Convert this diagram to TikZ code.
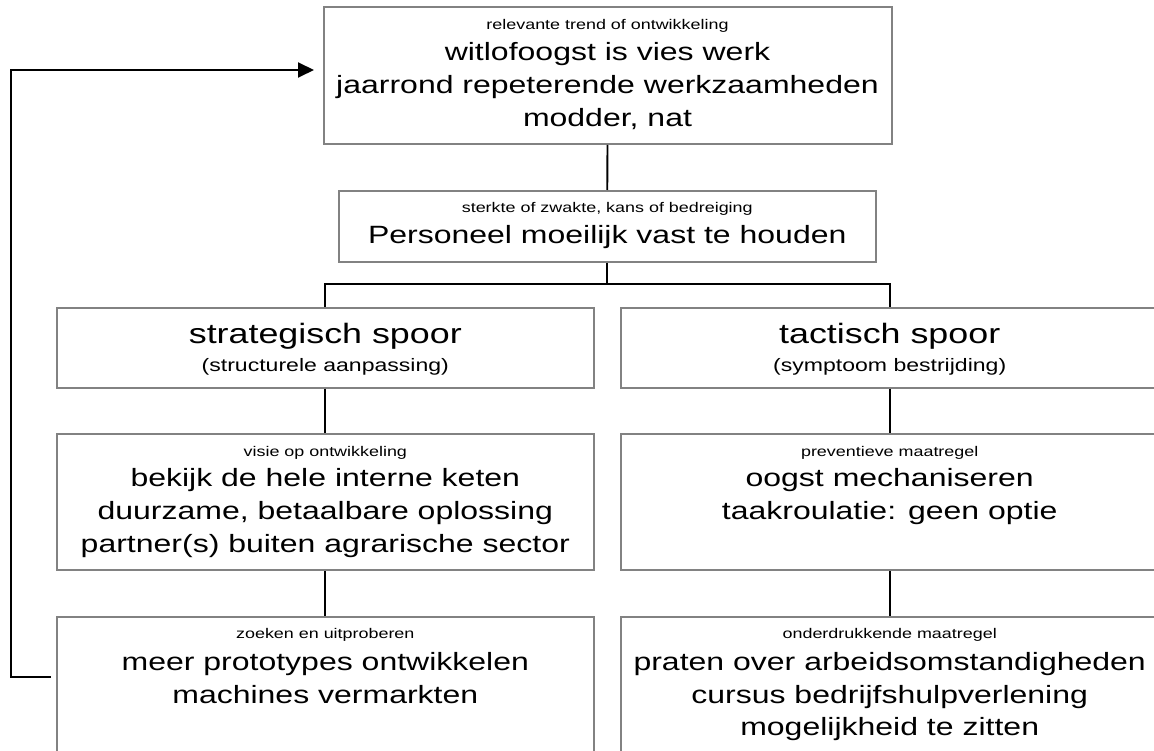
\documentclass[tikz,border=0pt]{standalone}
\usepackage{fontspec}
\setmainfont[FakeStretch=1.28]{Liberation Sans}
\usetikzlibrary{arrows.meta}
\definecolor{boxgray}{RGB}{130,130,130}
\tikzset{
  box/.style={draw=boxgray, line width=2pt, inner sep=0pt},
  small/.style={anchor=base, inner sep=0pt, font=\fontsize{14}{16}\selectfont},
  mid/.style={anchor=base, inner sep=0pt, font=\fontsize{18}{21}\selectfont},
  big/.style={anchor=base, inner sep=0pt, font=\fontsize{25}{29}\selectfont},
  head/.style={anchor=base, inner sep=0pt, font=\fontsize{28}{32}\selectfont},
  link/.style={draw=black, line width=1.9pt},
  fb/.style={draw=black, line width=1.9pt, -{Triangle[length=16pt,width=15pt]}}
}
\begin{document}
\begin{tikzpicture}[x=1pt,y=-1pt]
\useasboundingbox (0,0) rectangle (1154,751);
\clip (0,0) rectangle (1154,751);
% boxes
\node[box, minimum width=568pt, minimum height=136.5pt] (top) at (607.5,75.75) {};
\node[box, minimum width=537.5pt, minimum height=71pt] (prob) at (607.25,226.5) {};
\node[box, minimum width=537.3pt, minimum height=80pt] (strat) at (325.3,347.7) {};
\node[box, minimum width=538pt, minimum height=80pt] (tact) at (889.7,347.7) {};
\node[box, minimum width=537.3pt, minimum height=136pt] (visie) at (325.3,502) {};
\node[box, minimum width=538pt, minimum height=136pt] (prev) at (889.7,502) {};
\node[box, minimum width=537.3pt, minimum height=183.3pt] (zoek) at (325.3,708.35) {};
\node[box, minimum width=538pt, minimum height=183.3pt] (onder) at (889.7,708.35) {};
% texts top box
\node[small] (t0) at ([yshift=-23pt]top.north) {relevante trend of ontwikkeling};
\node[big] (t1) at ([yshift=-54pt]top.north) {witlofoogst is vies werk};
\node[big] (t2) at ([yshift=-87pt]top.north) {jaarrond repeterende werkzaamheden};
\node[big] (t3) at ([yshift=-120pt]top.north) {modder, nat};
% problem
\node[small] (p0) at ([yshift=-23pt]prob.north) {sterkte of zwakte, kans of bedreiging};
\node[big] (p1) at ([yshift=-54pt]prob.north) {Personeel moeilijk vast te houden};
% tracks
\node[head] (s1) at ([yshift=-37.3pt]strat.north) {strategisch spoor};
\node[mid] (s2) at ([yshift=-65pt]strat.north) {(structurele aanpassing)};
\node[head] (c1) at ([yshift=-37.3pt]tact.north) {tactisch spoor};
\node[mid] (c2) at ([yshift=-65pt]tact.north) {(symptoom bestrijding)};
% visie
\node[small] (v0) at ([yshift=-23pt]visie.north) {visie op ontwikkeling};
\node[big] (v1) at ([yshift=-53pt]visie.north) {bekijk de hele interne keten};
\node[big] (v2) at ([yshift=-86pt]visie.north) {duurzame, betaalbare oplossing};
\node[big] (v3) at ([yshift=-119pt]visie.north) {partner(s) buiten agrarische sector};
% preventief
\node[small] (r0) at ([yshift=-23pt]prev.north) {preventieve maatregel};
\node[big] (r1) at ([yshift=-53pt]prev.north) {oogst mechaniseren};
\node[big] (r2) at ([yshift=-86pt]prev.north) {taakroulatie: geen optie};
% zoeken
\node[small] (z0) at ([yshift=-23pt]zoek.north) {zoeken en uitproberen};
\node[big] (z1) at ([yshift=-55pt]zoek.north) {meer prototypes ontwikkelen};
\node[big] (z2) at ([yshift=-88pt]zoek.north) {machines vermarkten};
% onderdrukkend
\node[small] (o0) at ([yshift=-23pt]onder.north) {onderdrukkende maatregel};
\node[big] (o1) at ([yshift=-55pt]onder.north) {praten over arbeidsomstandigheden};
\node[big] (o2) at ([yshift=-88pt]onder.north) {cursus bedrijfshulpverlening};
\node[big] (o3) at ([yshift=-120pt]onder.north) {mogelijkheid te zitten};
% connectors
\coordinate (bus) at (607.25,284);
\draw[link] (top.south) -- (prob.north);
\draw[link] (prob.south) -- (bus);
\draw[link] (strat.north) |- (bus) -| (tact.north);
\draw[link] (strat.south) -- (visie.north);
\draw[link] (visie.south) -- (zoek.north);
\draw[link] (tact.south) -- (prev.north);
\draw[link] (prev.south) -- (onder.north);
\draw[fb] ([xshift=-4.7pt,yshift=31pt]zoek.west) -- ++(-40,0) |- ([xshift=-8.5pt,yshift=5.75pt]top.west);
\end{tikzpicture}
\end{document}
